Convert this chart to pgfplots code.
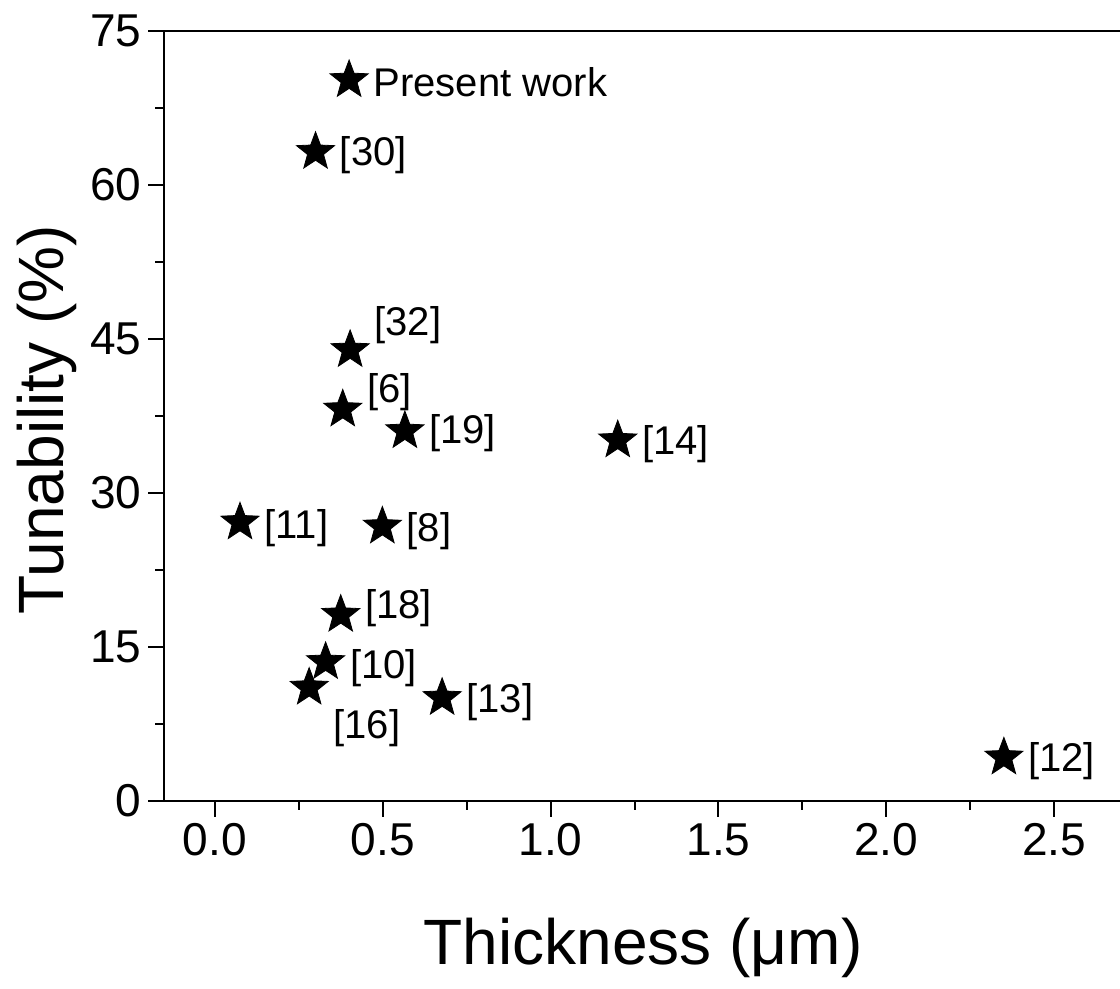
\documentclass[border=0pt]{standalone}
\usepackage{fontspec}
\setmainfont{Liberation Sans}
\usepackage{pgfplots}
\pgfplotsset{compat=1.18}
\usepackage{pgfplotstable}

% filled five-pointed star
\pgfdeclareplotmark{fstar}{%
  \pgfpathmoveto{\pgfpointpolar{90}{\pgfplotmarksize}}%
  \pgfpathlineto{\pgfpointpolar{126}{0.42\pgfplotmarksize}}%
  \pgfpathlineto{\pgfpointpolar{162}{\pgfplotmarksize}}%
  \pgfpathlineto{\pgfpointpolar{198}{0.42\pgfplotmarksize}}%
  \pgfpathlineto{\pgfpointpolar{234}{\pgfplotmarksize}}%
  \pgfpathlineto{\pgfpointpolar{270}{0.42\pgfplotmarksize}}%
  \pgfpathlineto{\pgfpointpolar{306}{\pgfplotmarksize}}%
  \pgfpathlineto{\pgfpointpolar{342}{0.42\pgfplotmarksize}}%
  \pgfpathlineto{\pgfpointpolar{18}{\pgfplotmarksize}}%
  \pgfpathlineto{\pgfpointpolar{54}{0.42\pgfplotmarksize}}%
  \pgfpathclose
  \pgfusepathqfillstroke
}

% thickness (um), tunability (%), label, label yshift (pt)
\pgfplotstableread[col sep=comma]{
x,y,lbl,dy
0.40,70.2,Present work,-1
0.30,63.2,[30],-1.5
0.403,43.9,[32],12.5
0.381,38.1,[6],8.5
0.566,36.0,[19],-1
1.20,35.1,[14],-2
0.075,27.1,[11],-3
0.499,26.7,[8],-2.5
0.375,18.1,[18],3.5
0.33,13.5,[10],-3
0.281,11.0,[16],-20
0.677,10.0,[13],-2
2.35,4.2,[12],-2
}\refdata

\begin{document}
\begin{tikzpicture}
\begin{axis}[
  scale only axis,
  width=478pt, height=384.5pt,
  xmin=-0.15, xmax=2.7,
  ymin=0, ymax=75,
  xtick={0,0.5,...,2.5},
  ytick={0,15,...,75},
  minor x tick num=1, minor y tick num=1,
  tick pos=left, tick align=outside,
  major tick length=8pt, minor tick length=4.5pt,
  axis line style={line width=1pt},
  every tick/.style={line width=1pt, black},
  tick label style={font=\fontsize{23}{27}\selectfont},
  /pgf/number format/assume math mode=true,
  xticklabel={\pgfmathprintnumber[fixed,fixed zerofill,precision=1,assume math mode=true]{\tick}},
  xlabel={Thickness (μm)},
  ylabel={Tunability (\%)},
  label style={font=\fontsize{32}{38}\selectfont},
  every axis x label/.append style={yshift=-24pt},
  every axis y label/.append style={xshift=-2pt},
  point meta=explicit symbolic,
  nodes near coords,
  visualization depends on={\thisrow{dy} \as \dy},
  nodes near coords style={anchor=west, inner sep=0pt, xshift=12pt,
    yshift=\dy pt, font=\fontsize{20}{24}\selectfont, black},
]
\addplot[only marks, mark=fstar, mark size=10pt, black, fill=black]
  table[x=x, y=y, meta=lbl] {\refdata};
\end{axis}
% the reference is cut just before the right spine
\pgfresetboundingbox
\useasboundingbox ([xshift=-5pt, yshift=-2pt]current axis.outer south west)
  rectangle ([xshift=-1.2pt, yshift=4pt]current axis.outer north east);
\end{tikzpicture}
\end{document}
